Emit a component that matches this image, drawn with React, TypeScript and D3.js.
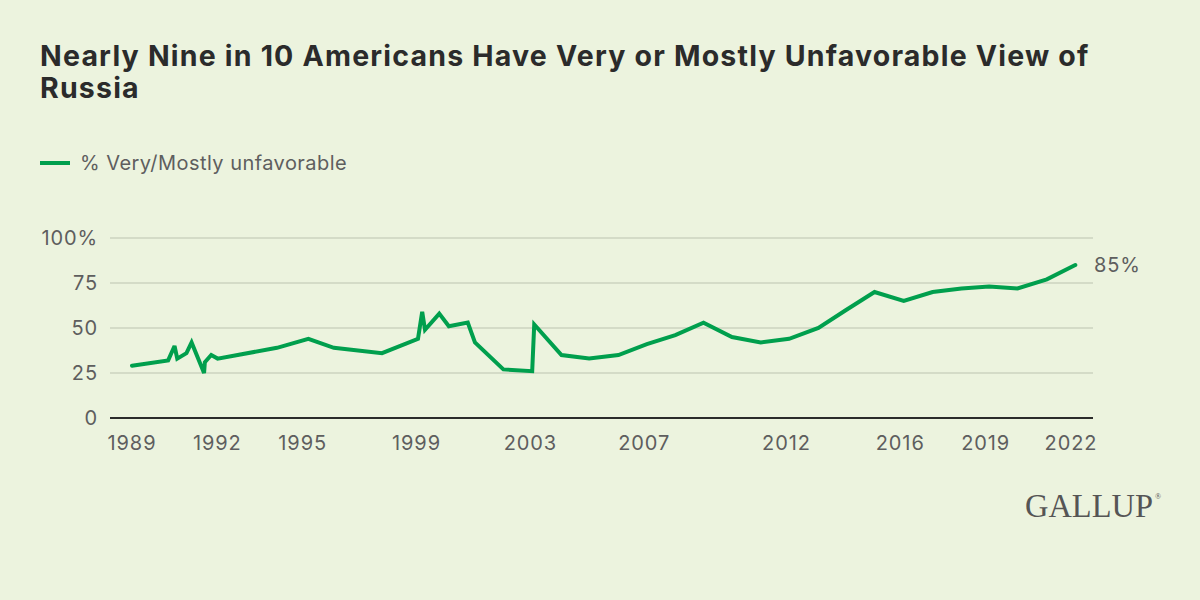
import React from "react";
import * as d3 from "d3";

const dates: string[] = [
  "1989-01-01", "1990-04-10", "1990-07-01", "1990-08-05", "1990-12-01", "1991-02-05",
  "1991-07-15", "1991-07-25", "1991-10-15", "1992-01-05", "1994-02-05", "1995-03-15",
  "1996-02-05", "1997-10-15", "1999-01-20", "1999-03-15", "1999-04-20", "1999-10-20",
  "2000-02-20", "2000-10-20", "2001-01-20", "2002-01-20", "2003-01-25", "2003-02-20",
  "2004-02-05", "2005-01-25", "2006-02-05", "2007-02-05", "2008-02-05", "2009-02-01",
  "2010-02-01", "2011-02-05", "2012-02-05", "2013-02-15", "2014-02-05", "2015-02-05",
  "2016-02-15", "2017-02-20", "2018-02-25", "2019-02-15", "2020-02-15", "2021-02-25",
  "2022-02-25",
];
const unfavorable: number[] = [
  29, 32, 40, 33, 36, 42,
  25, 31, 35, 33, 39, 44,
  39, 36, 44, 59, 49, 58,
  51, 53, 42, 27, 26, 52,
  35, 33, 35, 41, 46, 53,
  45, 42, 44, 50, 60, 70,
  65, 70, 72, 73, 72, 77,
  85,
];
const xTickYears: number[] = [1989, 1992, 1995, 1999, 2003, 2007, 2012, 2016, 2019, 2022];
const yTicks: number[] = [0, 25, 50, 75, 100];
const title1 = "Nearly Nine in 10 Americans Have Very or Mostly Unfavorable View of";
const title2 = "Russia";
const legendLabel = "% Very/Mostly unfavorable";

const BG = "#ECF3DE";
const GREEN = "#009F4D";
const TEXT = "#5E5E5E";
const GRID = "#D4DBC7";
const FONT = "Inter, 'Noto Sans', sans-serif";

export default function App() {
  const parse = d3.timeParse("%Y-%m-%d");
  const data = dates.map((d, i) => ({ date: parse(d) as Date, value: unfavorable[i] }));

  const x = d3
    .scaleTime()
    .domain([new Date(1989, 0, 1), new Date(2022, 0, 1)])
    .range([132, 1071]);
  const y = d3.scaleLinear().domain([0, 100]).range([418, 238]);

  const line = d3
    .line<{ date: Date; value: number }>()
    .x((d) => x(d.date))
    .y((d) => y(d.value));

  const gridX0 = 110;
  const gridX1 = 1093;
  const last = data[data.length - 1];
  const lbl = { fontFamily: FONT, fontSize: 20, fill: TEXT, letterSpacing: 0.9 };
  const ttl = { fontFamily: FONT, fontWeight: 700, fontSize: 28.5, letterSpacing: 1.2, fill: "#2B2B2B" };

  return (
    <svg
      width={1200}
      height={600}
      style={{ position: "absolute", left: 0, top: 0, display: "block" }}
    >
      <rect x={0} y={0} width={1200} height={600} fill={BG} />
      <text x={40} y={66} {...ttl}>
        {title1}
      </text>
      <text x={40} y={98} {...ttl}>
        {title2}
      </text>

      <line x1={40} x2={70} y1={163} y2={163} stroke={GREEN} strokeWidth={4} />
      <text x={80} y={170} fontFamily={FONT} fontSize={20} letterSpacing={0.45} fill={TEXT}>
        {legendLabel}
      </text>

      {yTicks.map((t) => (
        <g key={t}>
          {t !== 0 && (
            <line x1={gridX0} x2={gridX1} y1={y(t)} y2={y(t)} stroke={GRID} strokeWidth={2} />
          )}
          <text x={98} y={y(t)} dy="0.36em" textAnchor="end" {...lbl}>
            {t === 100 ? "100%" : String(t)}
          </text>
        </g>
      ))}
      <line x1={gridX0} x2={gridX1} y1={y(0)} y2={y(0)} stroke="#2B2B2B" strokeWidth={2} />

      {xTickYears.map((yr) => (
        <text key={yr} x={x(new Date(yr, 0, 1))} y={450} textAnchor="middle" {...lbl}>
          {yr}
        </text>
      ))}

      <path
        d={line(data) || ""}
        fill="none"
        stroke={GREEN}
        strokeWidth={4}
        strokeLinejoin="miter"
        strokeMiterlimit={3}
        strokeLinecap="round"
      />
      <text x={1094} y={y(last.value)} dy="0.36em" {...lbl}>
        {`${last.value}%`}
      </text>

      <text
        x={1025}
        y={517}
        fontFamily="'Liberation Serif', 'DejaVu Serif', serif"
        fontSize={33}
        fill="#555555"
        textLength={128}
        lengthAdjust="spacingAndGlyphs"
      >
        GALLUP
      </text>
      <text x={1155} y={499} fontFamily="'Liberation Serif', serif" fontSize={8} fill="#555555">
        ®
      </text>
    </svg>
  );
}
